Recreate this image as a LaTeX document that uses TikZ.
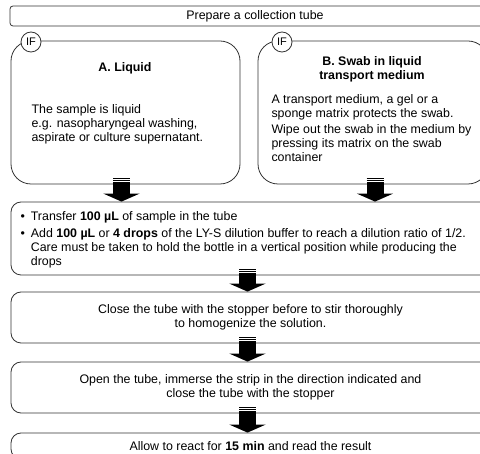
\documentclass[tikz,border=0pt]{standalone}
\usepackage{fontspec}
\setmainfont{Liberation Sans}
\usetikzlibrary{arrows.meta}

\begin{document}
\begin{tikzpicture}[x=1pt,y=-1pt,
    every node/.style={font=\fontsize{12.4}{14}\selectfont},
    box/.style={draw=black!80, line width=0.8pt, rounded corners=#1, inner sep=0pt},
    ifmark/.style={circle, draw=black!80, fill=white, line width=0.8pt, minimum size=20pt, inner sep=0pt, font=\fontsize{11}{13}\selectfont},
    flow/.style={line width=17pt, -{Triangle[width=36pt,length=8pt]}},
    stripe/.style={line width=1.2pt}]
\useasboundingbox (0,0) rectangle (480,454);
\clip (0,0) rectangle (480,454);

    \node[box=3pt, minimum width=490pt, minimum height=20pt] (prep) at (255,16) {Prepare a collection tube};

    % the two cases
    \node[box=20pt, minimum width=229pt, minimum height=143pt] (boxA) at (125.5,112.5) {};
    \node[box=20pt, minimum width=230pt, minimum height=143pt] (boxB) at (373,112.5) {};
    \node[ifmark] (ifA) at (31,42) {IF};
    \node[ifmark] (ifB) at (282,42) {IF};

    \node (titleA) at (125,68) {\textbf{A. Liquid}};
    \node[anchor=west, align=left] (textA) at (28,124.5) {The sample is liquid\\e.g. nasopharyngeal washing,\\aspirate or culture supernatant.};
    \node[align=center] (titleB) at (372,69) {\textbf{B. Swab in liquid}\\\textbf{transport medium}};
    \node[anchor=west, align=left] (textB) at (268,128) {A transport medium, a gel or a\\sponge matrix protects the swab.\\[2pt]Wipe out the swab in the medium by\\pressing its matrix on the swab\\container};

    % the steps
    \node[box=10pt, minimum width=479pt, minimum height=73pt] (boxAdd) at (250.5,238.5) {};
    \node[anchor=west] (textAdd) at (17,240) {\begin{tabular}{@{}l@{\hspace{6pt}}l@{}}
        \textbullet & Transfer \textbf{100 µL} of sample in the tube\\[3pt]
        \textbullet & Add \textbf{100 µL} or \textbf{4 drops} of the LY-S dilution buffer to reach a dilution ratio of 1/2.\\
        & Care must be taken to hold the bottle in a vertical position while producing the\\
        & drops
    \end{tabular}};
    \node[box=10pt, minimum width=479pt, minimum height=51pt, align=center] (boxClose) at (250.5,317.5) {Close the tube with the stopper before to stir thoroughly\\to homogenize the solution.};
    \node[box=10pt, minimum width=479pt, minimum height=51pt, align=center] (boxOpen) at (250.5,387.5) {Open the tube, immerse the strip in the direction indicated and\\close the tube with the stopper};
    \node[box=10pt, minimum width=479pt, minimum height=26pt] (boxReact) at (250.5,446) {Allow to react for \textbf{15 min} and read the result};

    \coordinate (fromA) at ([xshift=-4pt]boxA.south);
    \coordinate (fromB) at ([xshift=2pt]boxB.south);
    \coordinate (fromAdd) at ([xshift=-3pt]boxAdd.south);
    \coordinate (fromClose) at ([xshift=-3pt]boxClose.south);
    \coordinate (fromOpen) at ([xshift=-3pt]boxOpen.south);

    % fat arrows with striped tops
    \foreach \src/\dst in {fromA/boxAdd, fromB/boxAdd, fromAdd/boxClose, fromClose/boxOpen, fromOpen/boxReact}{
        \draw[flow] ([yshift=2pt]\src) -- (\src |- \dst.north);
        \draw[stripe] ([xshift=-8.5pt,yshift=3.5pt]\src) -- ++(17,0);
        \draw[stripe] ([xshift=-8.5pt,yshift=5.5pt]\src) -- ++(17,0);
    }

\end{tikzpicture}
\end{document}
